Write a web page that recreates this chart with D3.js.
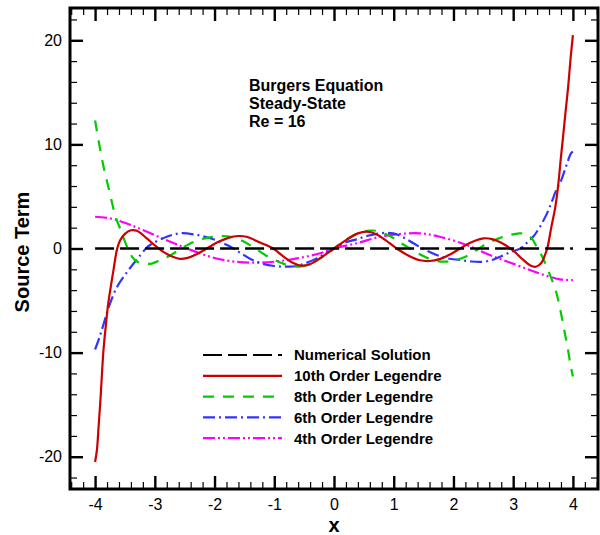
<!DOCTYPE html>
<meta charset="utf-8">
<style>
body { margin: 0; background: #fff; }
svg text { font-family: "Liberation Sans", Arial, sans-serif; }
</style>
<body>
<script src="https://cdn.jsdelivr.net/npm/d3@7"></script>
<script>

var width = 600,
    height = 535;

// numerical solution is the zero line
var numerical = [[-4, 0], [4, 0]];

var legendre10 = [[-4.0,-20.5],[-3.97,-19.4],[-3.94,-17.0],[-3.91,-14.5],[-3.86,-9.8],[-3.82,-7.4],[-3.78,-5.3],[-3.73,-3.4],
  [-3.69,-2.0],[-3.63,0],[-3.58,0.8],[-3.5,1.4],[-3.4,1.75],[-3.3,1.7],[-3.15,1.05],[-3.0,0.3],[-2.85,-0.35],[-2.7,-0.8],
  [-2.58,-1.0],[-2.45,-0.9],[-2.3,-0.55],[-2.13,0],[-1.95,0.6],[-1.78,1.0],[-1.6,1.2],[-1.45,1.1],[-1.25,0.6],[-1.02,0],
  [-0.85,-0.75],[-0.7,-1.35],[-0.55,-1.65],[-0.4,-1.5],[-0.2,-0.8],[0,0],[0.2,0.8],[0.4,1.45],[0.55,1.62],[0.7,1.4],
  [0.85,0.85],[1.05,0],[1.25,-0.7],[1.42,-1.1],[1.6,-1.2],[1.78,-1.0],[1.95,-0.55],[2.11,0],[2.3,0.6],[2.5,0.97],
  [2.65,0.9],[2.8,0.55],[3.0,-0.2],[3.15,-1.0],[3.28,-1.6],[3.38,-1.75],[3.47,-1.4],[3.52,-0.8],[3.57,0],[3.64,2.1],
  [3.7,3.8],[3.75,5.9],[3.8,8.8],[3.84,11.0],[3.88,13.3],[3.92,15.5],[3.96,18.2],[4.0,20.5]];

var legendre8 = [[-4.0,12.3],[-3.93,10.0],[-3.86,7.9],[-3.79,6.2],[-3.72,4.5],[-3.66,3.1],[-3.58,1.9],[-3.51,0.8],
  [-3.44,-0.15],[-3.38,-0.8],[-3.3,-1.25],[-3.18,-1.45],[-3.05,-1.45],[-2.9,-1.1],[-2.75,-0.7],[-2.6,-0.15],[-2.45,0.35],
  [-2.3,0.75],[-2.1,1.05],[-1.9,1.2],[-1.7,1.1],[-1.52,0.7],[-1.32,0],[-1.1,-0.8],[-0.9,-1.35],[-0.7,-1.7],[-0.55,-1.72],
  [-0.4,-1.45],[-0.2,-0.85],[0,0],[0.2,0.85],[0.4,1.45],[0.6,1.72],[0.75,1.65],[0.95,1.15],[1.1,0.6],[1.27,0],
  [1.45,-0.6],[1.65,-1.1],[1.85,-1.27],[2.0,-1.15],[2.2,-0.8],[2.4,-0.1],[2.55,0.45],[2.75,0.95],[2.95,1.3],[3.1,1.45],
  [3.22,1.4],[3.32,0.9],[3.4,0.1],[3.47,-0.6],[3.55,-1.6],[3.62,-2.6],[3.7,-3.8],[3.76,-5.1],[3.81,-6.5],[3.86,-8.0],
  [3.92,-9.8],[3.96,-11.2],[4.0,-12.3]];

var legendre6 = [[-4.0,-9.7],[-3.93,-8.6],[-3.86,-7.3],[-3.77,-5.6],[-3.63,-3.67],[-3.44,-2.07],[-3.24,-0.63],[-3.15,0],
  [-3.08,0.34],[-2.8,1.13],[-2.58,1.46],[-2.35,1.36],[-2.07,0.98],[-1.79,0.34],[-1.6,-0.3],[-1.4,-1.0],[-1.2,-1.45],
  [-1.0,-1.68],[-0.8,-1.75],[-0.62,-1.68],[-0.45,-1.35],[-0.29,-0.95],[-0.14,-0.45],[0,0],[0.2,0.6],[0.38,0.88],
  [0.55,1.2],[0.77,1.46],[0.99,1.46],[1.15,1.1],[1.33,0.5],[1.5,-0.05],[1.72,-0.63],[1.9,-0.95],[2.11,-1.1],[2.3,-1.25],
  [2.5,-1.27],[2.65,-1.1],[2.78,-0.8],[2.95,-0.35],[3.12,0],[3.22,0.5],[3.33,1.1],[3.44,2.0],[3.56,3.3],[3.64,4.4],
  [3.72,5.6],[3.8,6.5],[3.88,7.8],[3.97,9.15],[4.0,9.3]];

var legendre4 = [[-4.0,3.05],[-3.75,2.9],[-3.47,2.4],[-3.13,1.6],[-2.74,0.65],[-2.46,0],[-2.07,-0.8],[-1.74,-1.2],
  [-1.4,-1.36],[-1.01,-1.27],[-0.62,-0.95],[-0.23,-0.46],[0,0],[0.38,0.5],[0.77,1.13],[1.1,1.39],[1.44,1.46],
  [1.77,1.13],[2.22,0.34],[2.61,-0.63],[3.06,-1.59],[3.44,-2.4],[3.78,-2.96],[4.0,-3.03]];

var xMajor = [-4, -3, -2, -1, 0, 1, 2, 3, 4];
var yMajor = [-20, -10, 0, 10, 20];

var series = [
  {name: "Numerical Solution", data: numerical, color: "#000000", dash: "19,6", width: 2.6},
  {name: "10th Order Legendre", data: legendre10, color: "#cc0000", dash: null, width: 2.2},
  {name: "8th Order Legendre", data: legendre8, color: "#00cc00", dash: "11,9", width: 2.2},
  {name: "6th Order Legendre", data: legendre6, color: "#3333ff", dash: "12,4,2,4", width: 2.2},
  {name: "4th Order Legendre", data: legendre4, color: "#ff00ff", dash: "12,3,2,3,2,3", width: 2.2}
];

var plotLeft = 70, plotRight = 598, plotTop = 8, plotBottom = 489;

var x = d3.scaleLinear().domain([-4.42, 4.42]).range([plotLeft, plotRight]);
var y = d3.scaleLinear().domain([-23.1, 23.1]).range([plotBottom, plotTop]);

var xMinor = d3.range(-44, 45, 2).map(function(d) { return d / 10; })
    .filter(function(d) { return xMajor.indexOf(d) < 0; });
var yMinor = d3.range(-22, 23, 2).filter(function(d) { return yMajor.indexOf(d) < 0; });

var svg = d3.select("body").append("svg")
    .attr("width", width)
    .attr("height", height);

svg.append("defs").append("clipPath").attr("id", "clip")
  .append("rect").attr("x", plotLeft).attr("y", plotTop)
    .attr("width", plotRight - plotLeft).attr("height", plotBottom - plotTop);

function styleAxis(g, w) {
  g.select(".domain").remove();
  g.selectAll(".tick line").attr("stroke", "#000").attr("stroke-width", w);
  g.selectAll("text").attr("font-size", 16).attr("fill", "#000");
}

var fmt = function(d) { return String(d); };

// major + minor ticks on all four sides, pointing inward
svg.append("g").attr("transform", "translate(0," + plotBottom + ")")
    .call(d3.axisBottom(x).tickValues(xMajor).tickSize(-13).tickPadding(10).tickFormat(fmt))
    .call(styleAxis, 2.4);
svg.append("g").attr("transform", "translate(0," + plotBottom + ")")
    .call(d3.axisBottom(x).tickValues(xMinor).tickSize(-7).tickFormat(""))
    .call(styleAxis, 1.2);
svg.append("g").attr("transform", "translate(0," + plotTop + ")")
    .call(d3.axisTop(x).tickValues(xMajor).tickSize(-13).tickFormat(""))
    .call(styleAxis, 2.4);
svg.append("g").attr("transform", "translate(0," + plotTop + ")")
    .call(d3.axisTop(x).tickValues(xMinor).tickSize(-7).tickFormat(""))
    .call(styleAxis, 1.2);

svg.append("g").attr("transform", "translate(" + plotLeft + ",0)")
    .call(d3.axisLeft(y).tickValues(yMajor).tickSize(-13).tickPadding(8).tickFormat(fmt))
    .call(styleAxis, 2.4);
svg.append("g").attr("transform", "translate(" + plotLeft + ",0)")
    .call(d3.axisLeft(y).tickValues(yMinor).tickSize(-7).tickFormat(""))
    .call(styleAxis, 1.2);
svg.append("g").attr("transform", "translate(" + plotRight + ",0)")
    .call(d3.axisRight(y).tickValues(yMajor).tickSize(-13).tickFormat(""))
    .call(styleAxis, 2.4);
svg.append("g").attr("transform", "translate(" + plotRight + ",0)")
    .call(d3.axisRight(y).tickValues(yMinor).tickSize(-7).tickFormat(""))
    .call(styleAxis, 1.2);

var line = d3.line()
    .x(function(d) { return x(d[0]); })
    .y(function(d) { return y(d[1]); })
    .curve(d3.curveCatmullRom.alpha(0.5));

var plot = svg.append("g").attr("clip-path", "url(#clip)");

series.slice().reverse().forEach(function(s) {
  plot.append("path")
      .datum(s.data)
      .attr("fill", "none")
      .attr("stroke", s.color)
      .attr("stroke-width", s.width)
      .attr("stroke-dasharray", s.dash)
      .attr("d", line);
});

svg.append("rect")
    .attr("x", plotLeft).attr("y", plotTop)
    .attr("width", plotRight - plotLeft).attr("height", plotBottom - plotTop)
    .attr("fill", "none").attr("stroke", "#000").attr("stroke-width", 3);

// axis titles
svg.append("text")
    .attr("x", x(0)).attr("y", 532)
    .attr("text-anchor", "middle")
    .attr("font-size", 20).attr("font-weight", "bold")
    .text("x");

svg.append("text")
    .attr("transform", "translate(29,252) rotate(-90)")
    .attr("text-anchor", "middle")
    .attr("font-size", 20).attr("font-weight", "bold")
    .text("Source Term");

// annotation
var notes = ["Burgers Equation", "Steady-State", "Re = 16"];
svg.append("g").selectAll("text").data(notes).join("text")
    .attr("x", 249)
    .attr("y", function(d, i) { return 91 + i * 18; })
    .attr("font-size", 16).attr("font-weight", "bold")
    .text(function(d) { return d; });

// legend
var legend = svg.append("g").selectAll("g").data(series).join("g")
    .attr("transform", function(d, i) { return "translate(203," + (355 + i * 20.8) + ")"; });

legend.append("line")
    .attr("x1", 0).attr("x2", 79)
    .attr("stroke", function(d) { return d.color; })
    .attr("stroke-width", 2.2)
    .attr("stroke-dasharray", function(d) { return d.dash; });

legend.append("text")
    .attr("x", 91).attr("dy", "0.36em")
    .attr("font-size", 15).attr("font-weight", "bold")
    .text(function(d) { return d.name; });

</script>
